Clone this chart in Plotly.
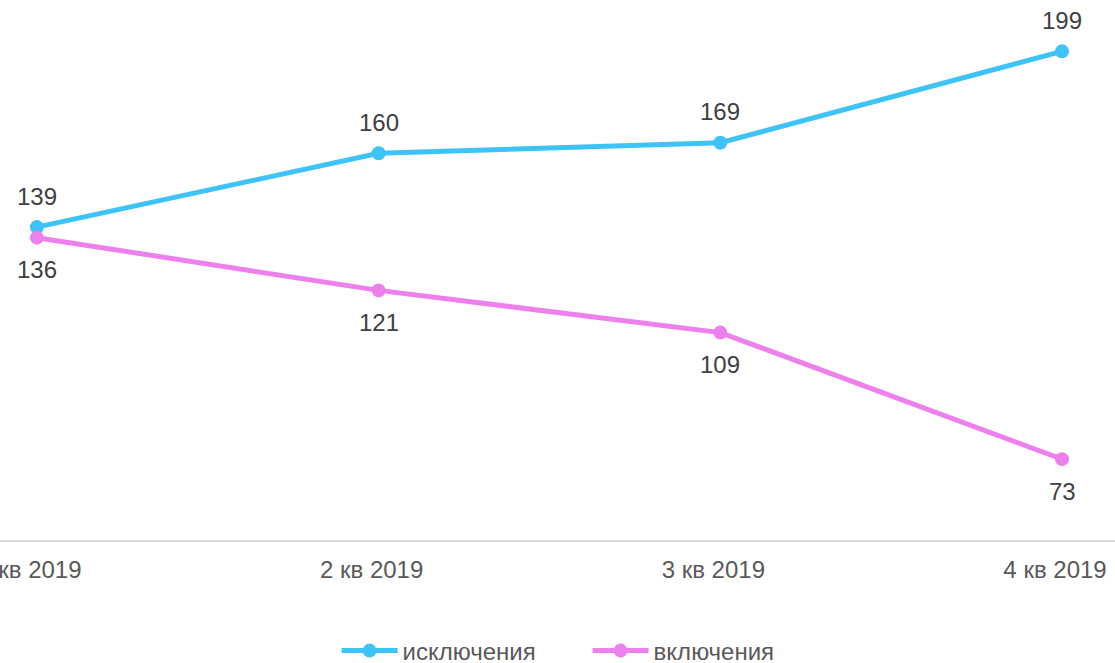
import plotly.graph_objects as go

categories = ["1 кв 2019", "2 кв 2019", "3 кв 2019", "4 кв 2019"]
# values shown in the data labels
excl_labels = [139, 160, 169, 199]
incl_labels = [136, 121, 109, 73]
# heights at which the points sit in the reference picture
excl_points = [139, 160, 163, 189]
incl_points = [136, 121, 109, 73]
series_names = ["исключения", "включения"]
colors = ["#3EC3F8", "#EE80EE"]

FONT = "Liberation Sans, Arial"

fig = go.Figure()
fig.add_trace(go.Scatter(x=categories, y=excl_points, name=series_names[0], mode="lines+markers",
                         line=dict(color=colors[0], width=5), marker=dict(size=14, color=colors[0])))
fig.add_trace(go.Scatter(x=categories, y=incl_points, name=series_names[1], mode="lines+markers",
                         line=dict(color=colors[1], width=5), marker=dict(size=14, color=colors[1])))

for c, v, t in zip(categories, excl_points, excl_labels):
    fig.add_annotation(x=c, y=v, text=str(t), showarrow=False, yshift=31,
                       font=dict(family=FONT, size=24, color="#404040"))
for c, v, t in zip(categories, incl_points, incl_labels):
    fig.add_annotation(x=c, y=v, text=str(t), showarrow=False, yshift=-32,
                       font=dict(family=FONT, size=24, color="#404040"))

fig.update_layout(
    width=1115, height=663,
    margin=dict(l=0, r=0, t=0, b=123),
    plot_bgcolor="white", paper_bgcolor="white",
    font=dict(family=FONT, size=24, color="#595959"),
    showlegend=True,
    legend=dict(orientation="h", x=0.527, xanchor="center",
                yref="container", y=1 - 651 / 663, yanchor="middle",
                itemwidth=56, entrywidth=180, font=dict(size=24, color="#595959")),
    xaxis=dict(type="category", range=[-0.108, 3.155], showgrid=False, zeroline=False,
               showline=True, linecolor="#D9D9D9", linewidth=2, ticks="", automargin=False,
               ticklabelstandoff=7, ticklabelshift=-7, tickfont=dict(size=24, color="#595959")),
    yaxis=dict(range=[50, 203.6], visible=False, showgrid=False, zeroline=False),
)

fig.write_html("out.html", config={"displayModeBar": False},
               post_script="document.body.style.margin='0';")
